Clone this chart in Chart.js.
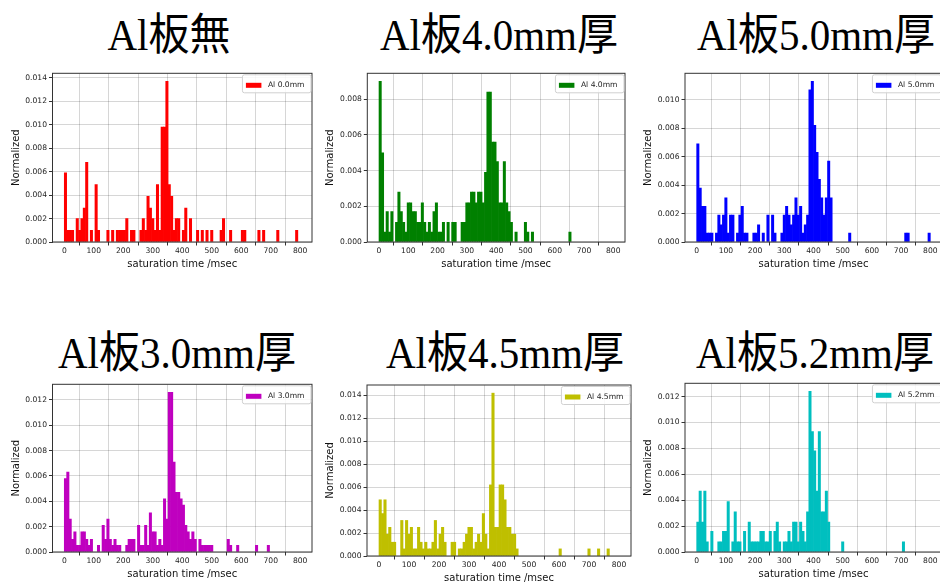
<!DOCTYPE html>
<html>
<head>
<meta charset="utf-8">
<script src="https://cdn.jsdelivr.net/npm/chart.js@4.4.0/dist/chart.umd.min.js"></script>
<style>
  body { margin: 0; width: 940px; height: 582px; overflow: hidden; background: #fff; position: relative; }
  .title {
    position: absolute; white-space: nowrap; color: #000;
    font-family: "Liberation Serif", "Noto Sans CJK JP", serif;
    font-size: 41px; line-height: 41px;
    transform: translateX(-50%) scaleY(1.08);
  }
  canvas { position: absolute; }
</style>
</head>
<body>
<div class="title" style="left:169px; top:15px">Al板無</div>
<div class="title" style="left:499px; top:15px">Al板4.0mm厚</div>
<div class="title" style="left:816px; top:15px">Al板5.0mm厚</div>
<div class="title" style="left:177px; top:333px">Al板3.0mm厚</div>
<div class="title" style="left:505px; top:333px">Al板4.5mm厚</div>
<div class="title" style="left:815px; top:333px">Al板5.2mm厚</div>

<canvas id="c1"></canvas>
<canvas id="c2"></canvas>
<canvas id="c3"></canvas>
<canvas id="c4"></canvas>
<canvas id="c5"></canvas>
<canvas id="c6"></canvas>

<script>
// histogram bins (bin centre in msec) and normalized heights
const xTicks = [0, 100, 200, 300, 400, 500, 600, 700, 800];

const al00X = [4,12,20,28,44,52,60,68,76,92,108,116,148,164,180,188,196,204,212,228,236,260,268,276,284,292,300,308,316,324,332,340,348,356,364,372,380,388,404,412,428,452,468,484,500,532,540,564,604,612,660,676,724,788];
const al00Y = [0.0059,0.001,0.001,0.001,0.002,0.001,0.002,0.0029,0.0068,0.001,0.0049,0.001,0.001,0.001,0.001,0.001,0.001,0.001,0.002,0.001,0.001,0.001,0.002,0.001,0.0039,0.0029,0.002,0.001,0.0049,0.001,0.0098,0.0098,0.0137,0.0049,0.0039,0.001,0.002,0.002,0.001,0.0029,0.002,0.001,0.001,0.001,0.001,0.001,0.002,0.001,0.001,0.001,0.001,0.001,0.001,0.001];

const al40X = [4,12,20,28,36,44,60,68,76,84,92,100,108,116,124,132,140,148,156,164,172,180,188,196,204,212,220,236,252,260,284,292,300,308,316,324,332,340,348,356,364,372,380,388,396,404,412,420,428,436,444,452,468,500,508,524,652];
const al40Y = [0.0090,0.0050,0.00056,0.0017,0.00056,0.0017,0.0011,0.0028,0.0017,0.0011,0.00056,0.0022,0.0022,0.0017,0.0017,0.0011,0.0011,0.0022,0.0011,0.00056,0.0011,0.00056,0.0017,0.0022,0.00056,0.00056,0.0011,0.0011,0.0011,0.0011,0.0011,0.0011,0.0022,0.0022,0.0028,0.0028,0.0022,0.0028,0.0028,0.0022,0.0039,0.0084,0.0084,0.0056,0.0056,0.0045,0.0022,0.0022,0.0045,0.0022,0.0017,0.0011,0.00056,0.0011,0.00056,0.00056,0.00056];

const al50X = [4,12,20,28,36,44,52,68,76,84,92,100,108,116,124,140,148,156,164,172,196,204,212,228,244,260,268,292,300,308,316,324,332,340,348,356,364,372,380,388,396,404,412,420,428,436,444,452,460,524,716,724,796];
const al50Y = [0.0069,0.0038,0.0025,0.0025,0.00063,0.00063,0.00063,0.00063,0.0019,0.0012,0.0019,0.0031,0.00063,0.0019,0.0019,0.00063,0.0019,0.0025,0.00063,0.00063,0.00063,0.00063,0.0012,0.00063,0.0019,0.0019,0.00063,0.00063,0.0019,0.0025,0.0019,0.0012,0.0019,0.0031,0.0019,0.0025,0.00063,0.0012,0.0019,0.0107,0.0113,0.0082,0.0063,0.0044,0.0031,0.0019,0.0031,0.0057,0.0031,0.00063,0.00063,0.00063,0.00063];

const al30X = [4,12,20,28,36,44,52,60,68,76,84,92,116,132,140,148,156,164,172,180,188,212,220,228,236,252,260,268,276,284,292,300,308,316,324,332,340,348,356,364,372,380,388,396,404,412,420,428,436,444,460,468,476,484,492,500,556,564,588,652,692];
const al30Y = [0.0058,0.0063,0.0026,0.0010,0.0016,0.00052,0.00052,0.0016,0.0016,0.0010,0.00052,0.0010,0.00052,0.0021,0.0010,0.0026,0.0010,0.00052,0.0010,0.00052,0.00052,0.00052,0.0010,0.0010,0.0010,0.0021,0.00052,0.00052,0.0021,0.00052,0.0031,0.0016,0.0016,0.00052,0.0010,0.00052,0.0042,0.0026,0.0126,0.0126,0.0071,0.0047,0.0047,0.0042,0.0037,0.0021,0.0016,0.0010,0.0016,0.0010,0.0010,0.00052,0.00052,0.00052,0.00052,0.00052,0.0010,0.00052,0.00052,0.00052,0.00052];

const al45X = [4,12,20,28,36,44,52,76,84,92,100,108,116,124,132,140,148,156,164,172,180,188,196,204,212,220,244,252,268,276,284,292,300,308,316,324,332,340,348,356,364,372,380,388,396,404,412,420,428,436,444,452,460,604,700,732,764];
const al45Y = [0.0049,0.0037,0.0049,0.0019,0.0025,0.0012,0.0012,0.0031,0.00062,0.0031,0.0019,0.0025,0.00062,0.00062,0.0025,0.0012,0.00062,0.0012,0.00062,0.00062,0.0012,0.0031,0.00062,0.0019,0.0025,0.0012,0.0012,0.0012,0.00062,0.00062,0.0012,0.0019,0.0025,0.0025,0.00062,0.0012,0.0019,0.0012,0.0037,0.0019,0.00062,0.0062,0.0142,0.0025,0.0025,0.0062,0.0062,0.0049,0.0025,0.0025,0.0019,0.0019,0.00062,0.00062,0.00062,0.00062,0.00062];

const al52X = [4,12,20,28,36,52,76,84,92,100,108,124,132,140,148,164,180,188,196,204,212,220,228,236,244,252,268,276,284,300,308,316,324,332,340,348,356,364,372,380,388,396,404,412,420,428,436,444,452,500,708];
const al52Y = [0.0023,0.0047,0.0023,0.0047,0.00078,0.0016,0.00078,0.00078,0.0016,0.0016,0.0039,0.00078,0.0031,0.00078,0.00078,0.0016,0.0023,0.00078,0.00078,0.00078,0.00078,0.0016,0.0016,0.00078,0.00078,0.0016,0.0016,0.0023,0.00078,0.00078,0.00078,0.0016,0.00078,0.0023,0.0023,0.00078,0.0023,0.0016,0.00078,0.0031,0.0124,0.0093,0.0078,0.0047,0.0093,0.0031,0.0031,0.0047,0.0023,0.00078,0.00078];

const yTicks014 = [0, 0.002, 0.004, 0.006, 0.008, 0.010, 0.012, 0.014];
const yTicks012 = [0, 0.002, 0.004, 0.006, 0.008, 0.010, 0.012];
const yTicks010 = [0, 0.002, 0.004, 0.006, 0.008, 0.010];
const yTicks008 = [0, 0.002, 0.004, 0.006, 0.008];

// plot rectangles [left, top, right, bottom] in page pixels
const panels = [
  { id: 'c1', label: 'Al 0.0mm', xs: al00X, ys: al00Y, color: '#ff0000', yTicks: yTicks014, rect: [52.5, 73.3, 312.1, 242.3] },
  { id: 'c2', label: 'Al 4.0mm', xs: al40X, ys: al40Y, color: '#008000', yTicks: yTicks008, rect: [367.3, 73.3, 624.5, 242.3] },
  { id: 'c3', label: 'Al 5.0mm', xs: al50X, ys: al50Y, color: '#0000ff', yTicks: yTicks010, rect: [685, 73.3, 941.7, 242.3] },
  { id: 'c4', label: 'Al 3.0mm', xs: al30X, ys: al30Y, color: '#bf00bf', yTicks: yTicks012, rect: [52.5, 384.3, 312.1, 552.3] },
  { id: 'c5', label: 'Al 4.5mm', xs: al45X, ys: al45Y, color: '#bfbf00', yTicks: yTicks014, rect: [367, 385, 631, 556] },
  { id: 'c6', label: 'Al 5.2mm', xs: al52X, ys: al52Y, color: '#00bfbf', yTicks: yTicks012, rect: [685, 383.3, 941.7, 552.3] }
];

Chart.defaults.font.family = '"DejaVu Sans", sans-serif';
Chart.defaults.color = '#222';

// matplotlib-like frame around the axes
const frame = {
  id: 'frame',
  afterDatasetsDraw(chart) {
    const { ctx, chartArea: a } = chart;
    ctx.save();
    ctx.strokeStyle = '#333';
    ctx.lineWidth = 1;
    ctx.strokeRect(a.left, a.top, a.right - a.left, a.bottom - a.top);
    ctx.restore();
  }
};

// legend box in the upper right corner
const cornerLegend = {
  id: 'cornerLegend',
  afterDraw(chart) {
    const { ctx, chartArea: a } = chart;
    const ds = chart.data.datasets[0];
    ctx.save();
    ctx.font = '7.6px "DejaVu Sans"';
    const w = ctx.measureText(ds.label).width + 32;
    const h = 18;
    const x = a.right - w - 1, y = a.top + 1.5;
    ctx.fillStyle = 'rgba(255,255,255,0.85)';
    ctx.strokeStyle = '#d0d0d0';
    ctx.lineWidth = 1;
    ctx.beginPath();
    ctx.roundRect(x, y, w, h, 2);
    ctx.fill();
    ctx.stroke();
    ctx.fillStyle = ds.backgroundColor;
    ctx.fillRect(x + 3.5, y + 8, 15.5, 5);
    ctx.fillStyle = '#222';
    ctx.textBaseline = 'middle';
    ctx.fillText(ds.label, x + 25.5, y + 10.5);
    ctx.restore();
  }
};

panels.forEach(p => {
  const [L, T, R, B] = p.rect;
  const cx = Math.round(L - 43);
  const ct = Math.round(T - 10);
  const cw = Math.round(R + 10 - cx);
  const ch = Math.round(B + 28 - ct);
  const yAxisW = L - cx;
  const padTop = T - ct;

  const cv = document.getElementById(p.id);
  cv.width = cw;
  cv.height = ch;
  cv.style.left = cx + 'px';
  cv.style.top = ct + 'px';

  new Chart(cv, {
    type: 'bar',
    data: {
      datasets: [{
        label: p.label,
        data: p.xs.map((x, i) => ({ x: x, y: p.ys[i] })),
        backgroundColor: p.color,
        borderWidth: 0,
        barPercentage: 1,
        categoryPercentage: 1
      }]
    },
    options: {
      responsive: false,
      animation: false,
      layout: { padding: { top: padTop, right: 10, left: 0, bottom: 0 } },
      plugins: { legend: { display: false }, tooltip: { enabled: false } },
      scales: {
        x: {
          type: 'linear',
          min: -40,
          max: 840,
          offset: false,
          afterBuildTicks: s => { s.ticks = xTicks.map(v => ({ value: v })); },
          afterFit: s => { s.height = 28; },
          grid: { color: 'rgba(0,0,0,0.16)', tickColor: '#333', tickLength: 3.5 },
          border: { display: false },
          ticks: { font: { size: 7.6 }, color: '#222', padding: 1, maxRotation: 0 },
          title: { display: true, text: 'saturation time /msec', font: { size: 10 }, color: '#111', padding: 0 }
        },
        y: {
          min: 0,
          max: Math.max(...p.ys) * 1.05,
          afterBuildTicks: s => { s.ticks = p.yTicks.map(v => ({ value: v })); },
          afterFit: s => { s.width = yAxisW; },
          grid: { color: 'rgba(0,0,0,0.16)', tickColor: '#333', tickLength: 3.5 },
          border: { display: false },
          ticks: { font: { size: 7.6 }, color: '#222', padding: 2, callback: v => v.toFixed(3) },
          title: { display: true, text: 'Normalized', font: { size: 10 }, color: '#111', padding: 0 }
        }
      }
    },
    plugins: [frame, cornerLegend]
  });
});
</script>
</body>
</html>
